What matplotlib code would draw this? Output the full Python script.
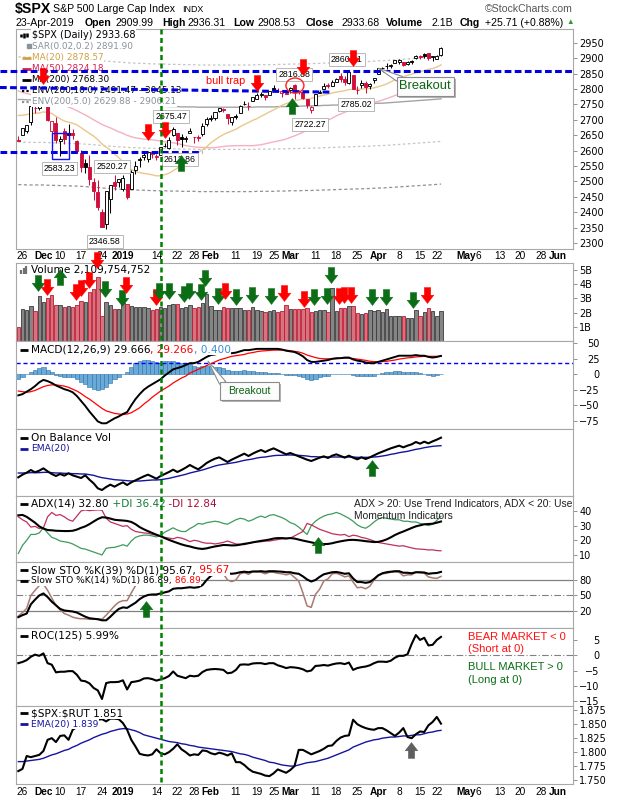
import numpy as np
import pandas as pd
import matplotlib
matplotlib.use('Agg')
import matplotlib.pyplot as plt
from matplotlib.path import Path
from matplotlib.patches import Rectangle, Ellipse, Polygon
from matplotlib.lines import Line2D
import matplotlib.patheffects as pe

plt.rcParams['font.family'] = ['DejaVu Sans']

# ---------------------------------------------------------------- data
holidays = ['2018-12-05', '2018-12-25', '2019-01-01', '2019-01-21',
            '2019-02-18', '2019-04-19', '2019-05-27']
trading_days = pd.bdate_range('2018-11-23', '2019-06-14', freq='C', holidays=holidays)

tick_dates = ['2018-11-26', '2018-12-03', '2018-12-10', '2018-12-17', '2018-12-24',
              '2019-01-02', '2019-01-14', '2019-01-22', '2019-01-28', '2019-02-01',
              '2019-02-11', '2019-02-19', '2019-02-25', '2019-03-01', '2019-03-11',
              '2019-03-18', '2019-03-25', '2019-04-01', '2019-04-08', '2019-04-15',
              '2019-04-22', '2019-05-01', '2019-05-06', '2019-05-13', '2019-05-20',
              '2019-05-28', '2019-06-03']
tick_labels = ['26', 'Dec', '10', '17', '24', '2019', '14', '22', '28', 'Feb', '11', '19',
               '25', 'Mar', '11', '18', '25', 'Apr', '8', '15', '22', 'May', '6', '13',
               '20', '28', 'Jun']
tick_bold = ['Dec', '2019', 'Feb', 'Mar', 'Apr', 'May', 'Jun']

open_ = [2633.36, 2649.97, 2663.75, 2691.45, 2736.97, 2737.76, 2790.50, 2782.43, 2663.51, 2691.26,
         2630.86, 2664.44, 2658.23, 2658.70, 2629.68, 2590.75, 2559.90, 2547.05, 2496.77, 2465.38,
         2400.56, 2363.12, 2442.50, 2498.77, 2498.94, 2476.96, 2491.92, 2474.33, 2535.61, 2568.11,
         2580.00, 2573.51, 2588.11, 2580.31, 2585.10, 2614.75, 2609.28, 2651.27, 2657.88, 2643.48,
         2638.84, 2657.44, 2644.97, 2644.89, 2653.62, 2685.49, 2702.32, 2706.49, 2728.34, 2735.05,
         2717.53, 2692.36, 2712.40, 2722.61, 2750.30, 2743.50, 2760.24, 2769.28, 2779.05, 2780.24,
         2780.67, 2804.35, 2792.36, 2787.50, 2788.11, 2798.22, 2814.37, 2794.41, 2790.27, 2766.53,
         2730.79, 2747.61, 2787.34, 2799.78, 2811.87, 2810.79, 2822.61, 2840.76, 2831.34, 2819.72,
         2844.52, 2796.01, 2812.66, 2819.72, 2809.40, 2828.27, 2848.63, 2868.24, 2876.09, 2873.99,
         2884.16, 2888.46, 2886.58, 2881.37, 2891.92, 2900.86, 2908.32, 2912.26, 2916.04, 2904.81,
         2898.78, 2909.99]
high = [2647.55, 2674.35, 2682.53, 2744.00, 2753.75, 2760.88, 2800.18, 2785.93, 2696.15, 2708.54,
        2647.51, 2674.35, 2685.44, 2670.19, 2635.07, 2601.13, 2573.99, 2585.29, 2509.63, 2504.41,
        2410.34, 2467.76, 2489.10, 2520.27, 2509.24, 2519.49, 2493.14, 2538.07, 2566.16, 2579.82,
        2595.32, 2597.82, 2596.27, 2589.32, 2613.08, 2625.76, 2645.06, 2675.47, 2657.88, 2653.19,
        2647.20, 2672.38, 2644.97, 2650.93, 2690.44, 2708.95, 2716.66, 2724.99, 2738.98, 2738.08,
        2719.32, 2708.07, 2718.05, 2748.19, 2761.85, 2757.90, 2775.66, 2787.33, 2789.88, 2781.58,
        2794.20, 2813.49, 2803.12, 2795.76, 2793.73, 2808.02, 2816.88, 2796.44, 2790.27, 2767.25,
        2744.13, 2784.00, 2798.32, 2821.24, 2819.72, 2830.73, 2835.41, 2852.42, 2843.54, 2860.31,
        2846.16, 2809.79, 2829.87, 2825.56, 2819.71, 2836.03, 2869.40, 2872.90, 2885.25, 2881.28,
        2893.24, 2895.95, 2886.88, 2889.71, 2893.42, 2910.54, 2909.60, 2916.06, 2918.00, 2908.40,
        2909.51, 2936.31]
low = [2631.09, 2649.97, 2655.89, 2684.38, 2722.94, 2732.76, 2773.38, 2697.18, 2621.53, 2623.14,
       2583.23, 2621.30, 2650.26, 2637.27, 2593.84, 2530.54, 2528.71, 2488.96, 2441.18, 2408.55,
       2351.10, 2346.58, 2397.94, 2472.89, 2482.82, 2467.47, 2443.96, 2474.33, 2524.56, 2547.56,
       2568.89, 2562.02, 2577.40, 2570.41, 2585.10, 2612.68, 2606.36, 2647.58, 2617.27, 2612.86,
       2627.01, 2657.33, 2624.06, 2631.05, 2648.34, 2678.65, 2696.88, 2698.75, 2724.03, 2724.15,
       2687.26, 2681.83, 2703.79, 2722.61, 2748.63, 2731.23, 2760.24, 2767.29, 2774.06, 2764.55,
       2779.11, 2794.99, 2789.47, 2775.13, 2782.51, 2787.38, 2767.66, 2782.97, 2768.69, 2739.09,
       2722.27, 2747.61, 2786.73, 2799.78, 2804.58, 2810.79, 2821.99, 2823.27, 2812.43, 2817.38,
       2800.47, 2785.02, 2803.99, 2787.72, 2798.77, 2819.23, 2848.63, 2858.75, 2865.17, 2867.14,
       2882.99, 2880.78, 2873.33, 2879.13, 2881.99, 2898.37, 2896.48, 2900.71, 2895.45, 2891.90,
       2896.35, 2908.53]
close = [2632.56, 2673.45, 2682.17, 2743.79, 2737.80, 2760.17, 2790.37, 2700.06, 2695.95, 2633.08,
         2637.72, 2636.78, 2651.07, 2650.54, 2599.95, 2545.94, 2546.16, 2506.96, 2467.42, 2416.62,
         2351.10, 2467.70, 2488.83, 2485.74, 2506.85, 2510.03, 2447.89, 2531.94, 2549.69, 2574.41,
         2584.96, 2596.64, 2596.26, 2582.61, 2610.30, 2616.10, 2635.96, 2670.71, 2632.90, 2638.70,
         2642.33, 2664.76, 2643.85, 2640.00, 2681.05, 2704.10, 2706.53, 2724.87, 2737.70, 2731.61,
         2706.05, 2707.88, 2709.80, 2744.73, 2753.03, 2745.73, 2775.60, 2779.76, 2784.70, 2774.88,
         2792.67, 2796.11, 2793.90, 2792.38, 2784.49, 2803.69, 2792.81, 2789.65, 2771.45, 2748.93,
         2743.07, 2783.30, 2791.52, 2810.92, 2808.48, 2822.48, 2832.94, 2832.57, 2824.23, 2854.88,
         2800.71, 2798.36, 2818.46, 2805.37, 2815.44, 2834.40, 2867.19, 2867.24, 2873.40, 2879.39,
         2892.74, 2895.77, 2878.20, 2888.21, 2888.32, 2907.41, 2905.58, 2907.06, 2900.45, 2905.03,
         2907.97, 2933.68]
prev_close_first = 2649.93

ma20 = [2714.1, 2714.9, 2716.9, 2720.0, 2721.3, 2722.3, 2725.7, 2723.8, 2720.8, 2711.7,
        2703.3, 2696.1, 2692.4, 2688.8, 2683.7, 2674.5, 2665.0, 2655.9, 2647.1, 2635.5,
        2621.4, 2611.1, 2601.5, 2588.6, 2577.0, 2564.5, 2547.4, 2539.0, 2531.7, 2528.8,
        2526.1, 2524.1, 2521.4, 2518.0, 2518.5, 2522.0, 2526.5, 2534.7, 2543.0, 2554.1,
        2568.6, 2578.5, 2586.2, 2593.9, 2602.6, 2612.3, 2625.3, 2634.9, 2644.3, 2652.2,
        2658.3, 2663.8, 2669.5, 2677.6, 2684.8, 2691.3, 2698.3, 2703.7, 2711.3, 2718.1,
        2725.7, 2732.2, 2739.7, 2747.3, 2752.5, 2757.5, 2761.8, 2765.0, 2766.7, 2767.5,
        2769.4, 2773.1, 2777.2, 2780.5, 2783.3, 2787.1, 2789.9, 2792.6, 2794.5, 2798.5,
        2798.9, 2799.0, 2800.2, 2800.9, 2802.4, 2803.9, 2807.6, 2811.5, 2816.6, 2823.1,
        2830.6, 2836.2, 2840.5, 2844.4, 2848.4, 2852.6, 2856.3, 2860.0, 2863.8, 2866.3,
        2871.6, 2878.6]
ma50 = [2794.0, 2789.4, 2785.3, 2782.1, 2778.7, 2775.2, 2772.4, 2768.1, 2763.7, 2758.2,
        2752.7, 2747.1, 2741.7, 2736.2, 2729.7, 2722.6, 2715.8, 2708.2, 2700.0, 2692.6,
        2685.0, 2679.0, 2673.8, 2667.3, 2661.3, 2656.1, 2649.7, 2645.2, 2641.4, 2639.7,
        2637.3, 2636.1, 2635.2, 2633.2, 2631.1, 2628.7, 2626.9, 2625.6, 2623.1, 2619.6,
        2616.3, 2614.0, 2612.4, 2610.7, 2610.3, 2609.8, 2609.2, 2609.8, 2611.8, 2613.4,
        2614.8, 2615.5, 2616.1, 2616.1, 2616.4, 2616.1, 2615.9, 2617.5, 2619.2, 2622.1,
        2625.2, 2628.4, 2631.2, 2634.0, 2637.7, 2642.9, 2647.8, 2653.5, 2659.5, 2666.2,
        2674.0, 2680.3, 2686.4, 2692.9, 2698.9, 2705.2, 2712.9, 2718.9, 2724.4, 2730.0,
        2734.3, 2738.3, 2742.8, 2747.2, 2751.3, 2755.7, 2760.3, 2764.2, 2769.0, 2773.8,
        2778.9, 2783.5, 2788.2, 2793.1, 2797.3, 2801.3, 2805.3, 2809.0, 2812.2, 2815.6,
        2819.7, 2824.2]
ma200 = [2766, 2766, 2765, 2765, 2765, 2765, 2765, 2764, 2764, 2763,
         2763, 2762, 2762, 2761, 2761, 2760, 2759, 2758, 2757, 2756,
         2754, 2753, 2752, 2751, 2750, 2749, 2748, 2747, 2747, 2746,
         2746, 2745, 2745, 2744, 2744, 2744, 2743, 2743, 2743, 2742,
         2742, 2742, 2742, 2741, 2741, 2741, 2741, 2741, 2741, 2741,
         2741, 2741, 2741, 2741, 2741, 2741, 2741, 2742, 2742, 2742,
         2742, 2742, 2743, 2743, 2743, 2744, 2744, 2744, 2745, 2745,
         2745, 2746, 2746, 2747, 2747, 2748, 2748, 2749, 2749, 2750,
         2750, 2751, 2751, 2752, 2752, 2753, 2754, 2754, 2755, 2756,
         2757, 2758, 2759, 2760, 2761, 2762, 2763, 2764, 2765, 2766,
         2767, 2768.3]
env_pct_wide = 0.10
env_pct_narrow = 0.05

volume_b = [1.00, 2.23, 2.18, 2.46, 2.11, 3.17, 2.72, 3.05, 3.24, 2.53,
            2.53, 2.42, 2.46, 2.42, 2.53, 2.82, 2.77, 3.43, 3.66, 4.53,
            1.76, 2.72, 2.53, 2.25, 2.25, 2.70, 2.58, 2.49, 2.42, 2.42,
            2.42, 2.35, 2.18, 2.25, 2.42, 2.30, 2.53, 2.58, 2.58, 2.30,
            2.42, 2.53, 2.30, 2.42, 2.65, 3.29, 2.49, 2.18, 2.18, 2.42,
            2.30, 2.35, 2.30, 2.35, 2.18, 2.18, 2.42, 2.18, 2.11, 2.07,
            2.11, 2.18, 2.07, 2.11, 2.53, 2.25, 2.23, 2.23, 2.25, 2.35,
            2.07, 2.11, 2.18, 2.18, 2.07, 3.71, 2.11, 2.30, 2.30, 2.46,
            2.46, 1.95, 1.88, 1.95, 2.18, 2.11, 2.18, 2.07, 2.25, 1.76,
            1.76, 1.76, 1.76, 1.64, 1.64, 2.18, 1.76, 2.07, 2.35, 2.11,
            1.76, 2.11]

macd = [-34, -32, -28, -24, -19, -13, -9, -11, -14, -18,
        -21, -24, -26, -29, -35, -43, -51, -60, -68, -76,
        -79, -79, -75, -71, -68, -64, -61, -50, -40, -32,
        -25, -20, -16, -12, -8, -2, 3, 8, 10, 12,
        15, 18, 18, 20, 24, 28, 31, 32, 34, 35,
        34, 34, 35, 37, 39, 39, 40, 41, 41, 41,
        41, 41, 41, 40, 38, 37, 36, 33, 29, 23,
        20, 20, 21, 22, 23, 25, 26, 26, 27, 27,
        24, 22, 21, 19, 18, 18, 20, 22, 24, 26,
        28, 30, 30, 30, 30, 31, 30, 30, 28, 27,
        28, 29.666]
macd_signal = [-27, -28, -29, -28, -26, -23, -20, -18, -17, -17,
               -18, -19, -21, -24, -27, -31, -36, -40, -45, -50,
               -55, -59, -61, -63, -64, -65, -64, -62, -58, -54,
               -48, -43, -37, -32, -27, -23, -19, -14, -10, -6,
               -3, 2, 5, 8, 11, 14, 17, 20, 23, 25,
               27, 29, 30, 31, 32, 34, 35, 36.5, 37.5, 38,
               38.5, 39, 39, 39, 39, 38, 37, 36, 34, 31,
               29, 27, 25.5, 25, 25, 25, 25, 26, 26, 26,
               25.5, 24.5, 23.5, 22.5, 21, 20.5, 20, 20.5, 21, 22,
               23, 24.5, 25.5, 26.5, 27, 28, 28.5, 29, 29, 29,
               29, 29.266]
macd_hist = [-7, -4, 1, 4, 7, 10, 11, 7, 3, -1,
             -3, -5, -5, -5, -8, -12, -15, -20, -23, -26,
             -24, -20, -14, -8, -4, 1, 3, 12, 18, 22,
             23, 23, 21, 20, 19, 21, 22, 22, 20, 18,
             18, 16, 13, 12, 13, 14, 14, 12, 11, 10,
             7, 5, 5, 6, 7, 5, 5, 4.5, 3.5, 3,
             2.5, 2, 2, 1, -1, -1, -1, -3, -5, -8,
             -9, -7, -4.5, -3, -2, 0, 1, 0, 1, 1,
             -1.5, -2.5, -2.5, -3.5, -3, -2.5, 0, 1.5, 3, 4,
             5, 5.5, 4.5, 3.5, 3, 3, 1.5, 1, -1, -2,
             -1, 0.4]
macd_guide = 17.7

obv = [5.6, 6.4, 7.0, 7.8, 7.1, 7.6, 8.3, 7.4, 6.6, 6.0,
       6.6, 6.1, 6.8, 6.2, 5.8, 5.4, 6.2, 4.9, 3.8, 2.3,
       1.8, 2.7, 3.4, 2.8, 3.5, 4.1, 3.3, 4.1, 4.7, 5.3,
       5.9, 6.4, 5.8, 5.2, 6.0, 6.6, 7.2, 7.9, 7.2, 7.8,
       8.5, 9.3, 8.6, 8.0, 8.9, 9.9, 10.6, 11.2, 11.6, 10.9,
       10.2, 10.9, 11.5, 12.1, 12.7, 12.0, 12.7, 13.3, 13.8, 13.2,
       13.8, 14.3, 13.7, 13.1, 12.5, 12.9, 12.4, 11.9, 11.4, 10.9,
       10.5, 11.0, 11.5, 11.9, 11.4, 12.1, 12.5, 12.0, 11.5, 12.1,
       11.5, 11.0, 11.6, 11.1, 11.6, 12.2, 12.8, 13.3, 13.8, 14.3,
       14.7, 15.1, 14.6, 15.1, 15.5, 16.2, 15.7, 16.3, 15.8, 16.4,
       16.9, 17.5]
obv_ema = [6.9, 6.9, 6.9, 7.0, 7.0, 7.0, 7.1, 7.1, 7.0, 6.9,
           6.9, 6.8, 6.8, 6.7, 6.7, 6.6, 6.6, 6.4, 6.2, 5.8,
           5.5, 5.3, 5.1, 4.9, 4.8, 4.7, 4.6, 4.5, 4.5, 4.5,
           4.6, 4.7, 4.8, 4.8, 4.9, 5.1, 5.3, 5.6, 5.9, 6.2,
           6.5, 6.9, 7.2, 7.5, 7.8, 8.2, 8.6, 9.0, 9.3, 9.5,
           9.7, 9.9, 10.1, 10.4, 10.7, 10.9, 11.1, 11.4, 11.6, 11.7,
           11.9, 12.1, 12.2, 12.2, 12.3, 12.3, 12.3, 12.2, 12.1, 12.0,
           11.8, 11.8, 11.7, 11.7, 11.7, 11.7, 11.7, 11.7, 11.7, 11.7,
           11.7, 11.6, 11.6, 11.6, 11.6, 11.7, 11.8, 12.0, 12.2, 12.5,
           12.7, 13.0, 13.2, 13.4, 13.7, 14.0, 14.2, 14.5, 14.7, 14.9,
           15.0, 15.1]

adx = [37, 37.3, 36, 34, 32, 29.5, 28, 27, 26.8, 26.5,
       26.4, 26.3, 26.3, 26.5, 27.3, 28.5, 29.5, 31, 32.8, 34.5,
       35.7, 35.5, 34.8, 34, 33.7, 33.5, 33.2, 32.5, 31, 29,
       27.5, 26.2, 25, 23.8, 22.8, 21.5, 20.3, 19.2, 18.2, 17.2,
       16.4, 15.8, 15.0, 14.4, 14.1, 14.5, 15.2, 15.8, 16.3, 16.8,
       16.7, 16.5, 16.6, 17, 17.6, 18, 18.6, 19.1, 19.6, 20,
       20.5, 21.2, 21.5, 21.5, 21.3, 21.5, 21.2, 20.5, 19.8, 19.2,
       18.6, 18, 17.7, 17.4, 17.5, 18, 18.7, 19.3, 19.8, 20.2,
       20.3, 20.1, 19.8, 19.4, 19.1, 18.8, 18.9, 19.6, 20.6, 22,
       23.6, 24.9, 26, 27.2, 28.4, 29.5, 30.2, 30.9, 31.1, 31.3,
       32.0, 32.8]
plus_di = [11, 16.5, 20, 24, 24, 25, 28.5, 25, 22, 21,
           19.5, 19, 18.5, 17.5, 16, 14.5, 14, 13, 12, 11,
           10, 14.5, 15, 15.2, 16, 17, 16, 19.5, 22, 23,
           23.5, 23.5, 23, 22.3, 23.5, 25.5, 27, 28.5, 27, 26,
           26, 28, 29.5, 31.5, 31, 32, 32.5, 33, 32.5, 31.5,
           31, 32.5, 34, 35, 34.5, 33, 34, 35.5, 36.5, 35.5,
           37, 37.5, 36.5, 35.5, 34, 32, 31, 29, 26.5, 24,
           30, 33, 35, 36.5, 37.5, 38, 39, 38, 36.5, 35,
           33, 30.5, 29, 28.2, 30, 32.5, 34.5, 35.5, 35, 34.5,
           34, 34, 33, 33, 32.5, 32.5, 31.5, 31, 30, 31,
           33.5, 36.42]
minus_di = [36, 34, 32.5, 29, 29.5, 28, 28.5, 36, 39, 37,
            37.5, 36, 34, 33, 36.5, 40, 40.7, 40.2, 40.5, 40.7,
            40.5, 35, 32.5, 31.5, 30.5, 29.5, 30, 27.5, 26, 25.5,
            25, 24.8, 24, 23.5, 22.5, 22, 21.5, 21, 22, 21.5,
            20.5, 19.1, 20, 19.5, 18.5, 18, 18, 17.5, 18, 18.6,
            19.5, 18.5, 17.5, 17.3, 17, 18, 18.5, 19, 19, 19.5,
            19.5, 20, 20.5, 21, 21, 21.5, 23, 24.5, 26, 31.5,
            30.5, 29, 27.5, 26.5, 25.5, 24.5, 24, 23.6, 24, 22.5,
            23.5, 23, 22, 21.4, 20.5, 19.5, 18.5, 18, 17.5, 17,
            16.5, 16, 16.3, 15.5, 14.8, 14.2, 14, 13.8, 13.4, 13.5,
            13, 12.84]

sto39 = [8, 12, 15, 33, 42, 50, 54, 47, 38, 31,
         24, 21, 20, 19, 17, 13, 9, 6, 5, 4,
         2, 2, 9, 17, 24, 27, 26, 31, 36, 43,
         48, 51, 52, 52, 54, 56, 58, 63, 64, 64,
         65, 66, 65, 66, 70, 80, 88, 92, 95, 95,
         93, 92, 93, 95, 96, 95, 96.5, 96.5, 97, 96,
         97, 97, 96.5, 96, 95, 95, 93, 92, 87, 81,
         77, 80, 86, 91, 93, 95, 95.5, 94, 92, 93,
         83, 76, 76, 74.5, 76, 82, 89, 93, 95, 96,
         97, 97, 94, 94, 93, 95, 95, 94.5, 92, 93,
         93.5, 95.67]
sto14 = [10, 17, 25, 50, 60, 69, 72, 60, 45, 31,
         22, 15, 12, 8, 6, 5, 5, 4, 4, 5,
         4, 12, 21, 30, 37, 40, 40, 55, 69, 74,
         80, 86, 88, 86, 90, 91, 93, 96, 88, 87,
         86, 90, 87, 86, 92, 96, 96, 97, 97, 92,
         80, 77, 80, 92, 94, 91, 96, 96, 95, 92,
         95, 95, 93, 92, 90, 92, 85, 78, 55, 30,
         27, 52, 62, 78, 82, 92, 93, 90, 86, 88,
         76, 65, 66, 63, 68, 80, 88, 92, 93, 95,
         96, 95, 88, 90, 90, 95, 94, 93, 86, 84,
         83, 86.89]

roc125 = [-2.6, -2.2, -1.6, -0.5, 0.2, -0.2, 0.6, -2.6, -3.1, -5.6,
          -5.4, -5.4, -5.2, -5.2, -6.4, -8.3, -8.5, -9.2, -10.7, -11.5,
          -14.3, -9.1, -8.8, -8.8, -8.7, -8.2, -11.2, -8.8, -8.6, -8.3,
          -7.6, -7.5, -7.8, -8.3, -7.9, -7.5, -6.8, -5.3, -6.7, -7.1,
          -7.5, -6.7, -6.9, -6.7, -5.5, -4.8, -4.6, -4.5, -4.6, -4.8,
          -5.9, -5.7, -4.8, -3.1, -3.0, -3.1, -2.7, -2.6, -2.6, -2.9,
          -2.6, -2.6, -3.3, -3.7, -4.2, -3.9, -4.0, -4.2, -4.6, -5.3,
          -5.0, -3.5, -3.4, -3.2, -3.4, -3.0, -2.7, -2.6, -2.9, -2.4,
          -4.8, -4.2, -3.9, -3.7, -3.3, -2.6, -2.1, -2.1, -2.2, -1.8,
          -0.8, -0.2, -0.2, 0.3, 3.7, 6.6, 5.0, 5.7, 3.2, 3.4,
          5.0, 5.99]

spx_rut = [1.766, 1.770, 1.793, 1.791, 1.793, 1.795, 1.802, 1.822, 1.825, 1.818,
           1.829, 1.830, 1.822, 1.840, 1.845, 1.850, 1.848, 1.852, 1.856, 1.858,
           1.859, 1.855, 1.860, 1.860, 1.859, 1.852, 1.840, 1.822, 1.810, 1.797,
           1.795, 1.794, 1.796, 1.805, 1.798, 1.796, 1.800, 1.806, 1.814, 1.805,
           1.800, 1.794, 1.796, 1.795, 1.803, 1.802, 1.798, 1.796, 1.799, 1.797,
           1.794, 1.798, 1.782, 1.782, 1.777, 1.770, 1.765, 1.763, 1.761, 1.758,
           1.757, 1.762, 1.769, 1.766, 1.763, 1.768, 1.775, 1.804, 1.804, 1.800,
           1.796, 1.799, 1.802, 1.806, 1.811, 1.812, 1.820, 1.826, 1.829, 1.830,
           1.858, 1.850, 1.846, 1.843, 1.841, 1.840, 1.843, 1.843, 1.839, 1.834,
           1.829, 1.835, 1.843, 1.827, 1.825, 1.832, 1.837, 1.836, 1.848, 1.854,
           1.863, 1.851]
spx_rut_ema = [1.783, 1.783, 1.784, 1.785, 1.786, 1.787, 1.789, 1.792, 1.795, 1.797,
               1.800, 1.803, 1.805, 1.809, 1.812, 1.816, 1.819, 1.822, 1.826, 1.829,
               1.832, 1.834, 1.837, 1.839, 1.841, 1.842, 1.842, 1.840, 1.838, 1.835,
               1.831, 1.829, 1.827, 1.825, 1.823, 1.821, 1.819, 1.818, 1.817, 1.815,
               1.814, 1.812, 1.811, 1.809, 1.808, 1.807, 1.806, 1.805, 1.804, 1.803,
               1.802, 1.801, 1.799, 1.797, 1.796, 1.794, 1.791, 1.789, 1.787, 1.785,
               1.782, 1.781, 1.779, 1.777, 1.776, 1.775, 1.775, 1.777, 1.779, 1.781,
               1.782, 1.783, 1.785, 1.787, 1.789, 1.792, 1.795, 1.798, 1.801, 1.804,
               1.809, 1.812, 1.815, 1.818, 1.820, 1.822, 1.823, 1.825, 1.826, 1.827,
               1.827, 1.828, 1.829, 1.829, 1.830, 1.831, 1.831, 1.833, 1.835, 1.836,
               1.838, 1.839]

# annotations (drawn by the chartist)
main_arrow_x = [5.9, 31.1, 35.1, 57.0, 68.1, 80.0, 38.9, 65.3]
main_arrow_y = [2841, 2659, 2666, 2820, 2872, 2901, 2559, 2744]
main_arrow_kind = ['rd', 'rd', 'rd', 'rd', 'rd', 'rd', 'gu', 'gu']
vol_arrow_x = [4.75, 6.74, 9.92, 13.7, 14.9, 16.8, 18.9, 20.8, 24.8, 25.7,
               32.8, 33.7, 35.9, 39.6, 40.8, 43.6, 44.7, 47.6, 49.5, 51.9,
               55.8, 60.5, 63.6, 68.3, 70.7, 73.7, 74.6, 76.7, 77.9, 79.4,
               84.5, 87.8, 94.4, 97.7]
vol_arrow_y = [4.12, 3.84, 4.48, 3.42, 3.77, 4.27, 5.71, 3.70, 3.00, 3.98,
               3.07, 3.53, 3.53, 3.28, 3.53, 3.42, 4.41, 3.14, 3.53, 3.07,
               3.24, 3.14, 3.35, 2.93, 3.07, 3.14, 4.65, 3.14, 3.21, 3.24,
               3.07, 3.07, 2.86, 3.24]
vol_arrow_kind = ['gd', 'rd', 'gu', 'rd', 'rd', 'rd', 'rd', 'gd', 'gd', 'rd',
                  'rd', 'gd', 'gd', 'gd', 'gd', 'gd', 'gd', 'gd', 'rd', 'gd',
                  'gd', 'gd', 'rd', 'rd', 'gd', 'gd', 'gd', 'rd', 'rd', 'rd',
                  'gd', 'gd', 'gd', 'rd']
price_label_text = ['2583.23', '2520.27', '2346.58', '2675.47', '2612.86',
                    '2816.88', '2860.31', '2722.27', '2785.02']
price_label_x = [9.8, 22.4, 20.7, 36.5, 38.6, 65.9, 78.5, 69.7, 80.7]
price_label_y = [2541, 2548, 2306, 2710, 2572, 2848, 2895, 2684, 2750]
level_hi = 2860
level_mid = (2805, 2790)
level_lo = 2594
breakout_day = '2019-01-15'

# ---------------------------------------------------------------- layout
W, H = 620, 800
L, R = 16, 573
X0PX, DX = 18.3, 4.185
XL0, XL1 = (L - X0PX) / DX, (R - X0PX) / DX
P = {'main': (29, 249), 'vol': (263, 341), 'macd': (341, 429), 'obv': (429, 496),
     'adx': (496, 562), 'sto': (562, 628), 'roc': (628, 706), 'ratio': (706, 784)}
SPINE = '#a8a8a8'
RED = '#d0103c'
LF = ['Liberation Sans', 'DejaVu Sans']
NARROW = ['Liberation Sans Narrow', 'Liberation Sans', 'DejaVu Sans']

fig = plt.figure(figsize=(W / 100, H / 100), dpi=100)
fig.patch.set_facecolor('white')

n = len(close)
x = np.arange(n)
pos = {d: trading_days.get_loc(pd.Timestamp(d)) for d in tick_dates}
tick_pos = [pos[d] for d in tick_dates]


def panel(name):
    t, b = P[name]
    ax = fig.add_axes([L / W, 1 - b / H, (R - L) / W, (b - t) / H])
    ax.set_xlim(XL0, XL1)
    for s in ax.spines.values():
        s.set_color(SPINE)
        s.set_linewidth(0.8)
    ax.yaxis.tick_right()
    ax.tick_params(axis='y', direction='out', length=3, width=0.7, color='#909090',
                   labelsize=7, pad=1.5, left=False, labelleft=False)
    ax.tick_params(axis='x', bottom=False, labelbottom=False, top=False)
    return ax


def axc(name, xpx, ypx):
    t, b = P[name]
    return (xpx - L) / (R - L), (b - ypx) / (b - t)


def date_labels(ax, pad):
    ax.set_xticks(tick_pos)
    ax.set_xticklabels(tick_labels)
    ax.tick_params(axis='x', bottom=True, labelbottom=True, length=0, pad=pad)
    for lab in ax.get_xticklabels():
        lab.set_fontfamily(LF)
        lab.set_fontsize(7.3)
        lab.set_fontweight('bold' if lab.get_text() in tick_bold else 'normal')


def seg_text(ax, name, xpx, ypx, segs, size, z=4):
    xa, ya = axc(name, xpx, ypx)
    t = ax.text(xa, ya, segs[0][0], color=segs[0][1], fontsize=size, transform=ax.transAxes,
                va='center', ha='left', zorder=z,
                bbox=dict(fc='white', ec='none', pad=0.4))
    prev = t
    for s, col in segs[1:]:
        prev = ax.annotate(s, xy=(1, 0.5), xycoords=prev, va='center', ha='left', color=col,
                           fontsize=size, zorder=z, annotation_clip=False,
                           bbox=dict(fc='white', ec='none', pad=0.4))
    return t


def icon_line(ax, name, ypx, color, ls='-', lw=2.0, x0=20, x1=28):
    xa0, ya = axc(name, x0, ypx)
    xa1, _ = axc(name, x1, ypx)
    ax.plot([xa0, xa1], [ya, ya], transform=ax.transAxes, color=color, lw=lw, ls=ls,
            solid_capstyle='butt', clip_on=False, zorder=4.5)


def arrow_path(up):
    v = [(-0.2, 0.5), (0.2, 0.5), (0.2, 0.02), (0.4, 0.02), (0.0, -0.5),
         (-0.4, 0.02), (-0.2, 0.02), (-0.2, 0.5)]
    if up:
        v = [(a, -b) for a, b in v]
    codes = [Path.MOVETO] + [Path.LINETO] * (len(v) - 1) + [Path.CLOSEPOLY]
    return Path(v + [v[0]], codes)


DOWN, UP = arrow_path(False), arrow_path(True)
ACOL = {'r': '#ff0000', 'g': '#0b6e16', 'k': '#5f5f5f'}


def arrows(ax, xs, ys, kinds, ms=11.5):
    for xa, ya, k in zip(xs, ys, kinds):
        ax.plot([xa], [ya], marker=UP if k[1] == 'u' else DOWN, ms=ms, color=ACOL[k[0]],
                mec=ACOL[k[0]], mew=0.3, ls='none', clip_on=False, zorder=8)


def callout(ax, x0, x1, y0, y1, tip, attach, text, size):
    wedge = Polygon([tip, attach[0], attach[1]], closed=True, fc='white', ec='#8c8c8c',
                    lw=0.8, zorder=6)
    ax.add_patch(wedge)
    box = Rectangle((x0, y0), x1 - x0, y1 - y0, fc='#fcfcfc', ec='#8c8c8c', lw=0.8, zorder=6.2,
                    path_effects=[pe.withSimplePatchShadow(offset=(1.6, -1.6),
                                                           shadow_rgbFace='#b4b4b4', alpha=1)])
    ax.add_patch(box)
    ax.text((x0 + x1) / 2, (y0 + y1) / 2, text, color='#0a6414', fontsize=size, family=LF,
            ha='center', va='center', zorder=6.5)


# ---------------------------------------------------------------- main price panel
axm = panel('main')
axm.set_ylim(2280.5, 2995)
axm.set_yticks(np.arange(2300, 2951, 50))
date_labels(axm, 1.6)

ma200a = np.array(ma200)
for k, (col, ls, lw) in {env_pct_wide: ('#909090', (0, (2.5, 2)), 0.9),
                         env_pct_narrow: ('#c4c4c4', (0, (2, 2)), 0.9)}.items():
    axm.plot(x, ma200a * (1 - k), color=col, ls=ls, lw=lw, zorder=2)
    axm.plot(x, ma200a * (1 + k), color=col, ls=ls, lw=lw, zorder=2)
axm.plot(x, ma200, color='#a4a4a4', lw=1.0, zorder=2)
axm.plot(x, ma50, color='#f2b2c2', lw=1.0, zorder=2)
axm.plot(x, ma20, color='#e9c88a', lw=1.0, zorder=2)

o, h, l, c = map(np.array, (open_, high, low, close))
prev = np.r_[prev_close_first, c[:-1]]
down = c < prev
edge = np.where(down, RED, 'black')
face = [edge[i] if c[i] < o[i] else 'white' for i in range(n)]
axm.vlines(x, l, h, colors=edge, lw=0.75, zorder=3)
axm.bar(x, np.maximum(np.abs(c - o), 1.2), bottom=np.minimum(o, c), width=0.72, color=face,
        edgecolor=edge, linewidth=0.65, zorder=3.1)

# legend block
mleg = [(r'\$SPX (Daily) 2933.68', 'black', 35.0, 7.0),
        ('SAR(0.02,0.2) 2891.90', '#8a929c', 46.3, 6.4),
        ('MA(20) 2878.57', '#d2a044', 57.5, 6.4),
        ('MA(50) 2824.18', '#d2204c', 68.5, 6.4),
        ('MA(200) 2768.30', 'black', 79.5, 6.4),
        ('ENV(200,10.0) 2491.47 - 3045.13', 'black', 90.5, 6.4),
        ('ENV(200,5.0) 2629.88 - 2906.21', '#8a929c', 101.5, 6.4)]
for txt, col, ypx, fs in mleg:
    seg_text(axm, 'main', 32, ypx, [(txt, col)], fs)
for xx, hh in [(21, 3), (24, 5), (27, 4)]:
    xa, ya = axc('main', xx, 35 + hh / 2)
    _, yb = axc('main', xx, 35 - hh / 2)
    axm.plot([xa, xa], [ya, yb], transform=axm.transAxes, color='black', lw=1.8,
             solid_capstyle='butt', clip_on=False, zorder=4.5)
xa, ya = axc('main', 29, 46.3)
axm.plot([xa], [ya], marker='s', ms=2.5, color='#8a929c', transform=axm.transAxes,
         clip_on=False, zorder=4.5)
icon_line(axm, 'main', 57.5, '#d2a044', x0=22, x1=31)
icon_line(axm, 'main', 68.5, '#d2204c', x0=22, x1=31)
icon_line(axm, 'main', 79.5, 'black', x0=22, x1=31)
icon_line(axm, 'main', 90.5, 'black', ls=(0, (1, 1)), lw=1.6, x0=22, x1=31)
icon_line(axm, 'main', 101.5, '#8a929c', ls=(0, (1, 1)), lw=1.6, x0=22, x1=31)

# horizontal levels
xa_left = (0 - X0PX) / DX
BLUE = '#0000e0'
dash = dict(color=BLUE, lw=2.2, dashes=(2.2, 1.1), clip_on=False, zorder=5)
axm.plot([xa_left, XL1], [level_hi, level_hi], **dash)
axm.plot([xa_left, 74.9], list(level_mid), **dash)
axm.plot([xa_left, 43.8], [level_lo, level_lo], **dash)

for t_, xx, yy in zip(price_label_text, price_label_x, price_label_y):
    axm.text(xx, yy, t_, fontsize=6.3, family=LF, ha='center', va='center', zorder=6,
             bbox=dict(boxstyle='square,pad=0.22', fc='white', ec='#b8b8b8', lw=0.7))
axm.add_patch(Rectangle((8.1, 2572.4), 4.1, 84.4, fill=False, ec='#1010ff', lw=1.0, zorder=6))
axm.add_patch(Ellipse((66.1, 2811.4), 4.3, 48.7, fill=False, ec='#ff2020', lw=1.0, zorder=6))
axm.text(49.6, 2825, 'bull trap', color='#ff0000', fontsize=7.8, family=LF,
         ha='center', va='center', zorder=6)
callout(axm, 90.4, 104.1, 2777.9, 2840.6, (86.0, 2868), [(90.4, 2826), (91.8, 2840.6)],
        'Breakout', 9.3)
arrows(axm, main_arrow_x, main_arrow_y, main_arrow_kind)

# ---------------------------------------------------------------- volume
axv = panel('vol')
axv.set_ylim(0, 5.5)
axv.set_yticks([1, 2, 3, 4, 5])
axv.set_yticklabels(['1B', '2B', '3B', '4B', '5B'])
vfill = np.where(down, '#d47480', '#858585')
vedge = np.where(down, '#c01830', '#3c3c3c')
axv.bar(x, volume_b, width=0.82, color=vfill, edgecolor=vedge, linewidth=0.6, zorder=2)
seg_text(axv, 'vol', 31, 270.5, [('Volume 2,109,754,752', 'black')], 7.6)
for xx, hh in [(21, 4), (23.5, 6), (26, 8)]:
    xa, ya = axc('vol', xx, 274)
    _, yb = axc('vol', xx, 274 - hh)
    axv.plot([xa, xa], [ya, yb], transform=axv.transAxes, color='#707070', lw=1.6,
             solid_capstyle='butt', clip_on=False, zorder=4.5)
arrows(axv, vol_arrow_x, vol_arrow_y, vol_arrow_kind)

# ---------------------------------------------------------------- MACD
axd = panel('macd')
axd.set_ylim(-88.2, 53.7)
axd.set_yticks([50, 25, 0, -25, -50, -75])
axd.bar(x, macd_hist, width=1.0, color='#6aaad8', edgecolor='#2f70a8', linewidth=0.4, zorder=2)
axd.axhline(macd_guide, color='#0000ff', lw=1.0, dashes=(3, 2), zorder=2.5)
axd.plot(x, macd_signal, color='#ff0000', lw=0.9, zorder=3)
axd.plot(x, macd, color='black', lw=1.4, zorder=3.2)
seg_text(axd, 'macd', 31, 349.5, [('MACD(12,26,9) 29.666', 'black'), (', 29.266', '#ff0000'),
                                  (', 0.400', '#3a8fd0')], 7.6)
icon_line(axd, 'macd', 349.5, 'black')
callout(axd, 48.1, 62.2, -41.5, -11.9, (45.3, 21.5), [(48.1, -16), (49.6, -11.9)],
        'Breakout', 7.6)

# ---------------------------------------------------------------- OBV
axo = panel('obv')
axo.set_ylim(0, 20.1)
axo.set_yticks([])
axo.plot(x, obv_ema, color='#1414a0', lw=1.0, zorder=2)
axo.plot(x, obv, color='black', lw=1.5, zorder=3)
seg_text(axo, 'obv', 31, 437.7, [('On Balance Vol', 'black')], 7.6)
seg_text(axo, 'obv', 31, 449.0, [('EMA(20)', '#1414a0')], 6.6)
icon_line(axo, 'obv', 437.7, 'black')
icon_line(axo, 'obv', 449.0, '#1414a0')
arrows(axo, [84.5], [8.3], ['gu'])

# ---------------------------------------------------------------- ADX
axa = panel('adx')
axa.set_ylim(5.2, 50.2)
axa.set_yticks([40, 30, 20, 10])
axa.plot(x, plus_di, color='#3e9a5e', lw=0.9, zorder=2)
axa.plot(x, minus_di, color='#c0305a', lw=0.9, zorder=2)
axa.plot(x, adx, color='black', lw=1.5, zorder=3)
seg_text(axa, 'adx', 31, 504, [('ADX(14) 32.80', 'black'), (' +DI 36.42', '#127a34'),
                               (' -DI 12.84', '#a8103c')], 7.6)
icon_line(axa, 'adx', 504, 'black')
xa, ya = axc('adx', 354.5, 504)
axa.text(xa, ya, 'ADX > 20: Use Trend Indicators, ADX < 20: Use', transform=axa.transAxes,
         fontsize=7.4, family=LF, color='#202020', va='center', ha='left', zorder=5,
         clip_on=False)
xa, ya = axc('adx', 354.5, 515.7)
axa.text(xa, ya, 'Momentum Indicators', transform=axa.transAxes, fontsize=7.4, family=LF,
         color='#202020', va='center', ha='left', zorder=5, clip_on=False)
arrows(axa, [71.6], [16.8], ['gu'])

# ---------------------------------------------------------------- Slow STO
axs = panel('sto')
axs.set_ylim(-12.9, 114.8)
axs.set_yticks([80, 50, 20])
axs.axhline(80, color='#808080', lw=0.9, zorder=1)
axs.axhline(20, color='#808080', lw=0.9, zorder=1)
axs.axhline(50, color='#808080', lw=0.8, ls=(0, (6, 2, 1, 2)), zorder=1)
axs.plot(x, sto14, color='#a87a72', lw=1.1, zorder=2)
axs.plot(x, sto39, color='black', lw=1.5, zorder=3)
seg_text(axs, 'sto', 31, 570.2, [('Slow STO %K(39) %D(1) 95.67,', 'black'),
                                 (' 95.67', '#ff0000')], 7.6)
seg_text(axs, 'sto', 31, 580.6, [('Slow STO %K(14) %D(1) 86.89,', 'black'),
                                 (' 86.89', '#ff0000')], 6.5)
icon_line(axs, 'sto', 570.2, 'black')
icon_line(axs, 'sto', 580.6, 'black')
arrows(axs, [30.6], [22.9], ['gu'])

# ---------------------------------------------------------------- ROC
axr = panel('roc')
axr.set_ylim(-16.6, 8.9)
axr.set_yticks([5, 0, -5, -10, -15])
axr.axhline(0, color='#808080', lw=0.8, ls=(0, (6, 2, 1, 2)), zorder=1)
axr.plot(x, roc125, color='black', lw=1.5, zorder=3)
seg_text(axr, 'roc', 31, 635.7, [('ROC(125) 5.99%', 'black')], 7.6)
icon_line(axr, 'roc', 635.7, 'black')
for txt, col, ypx in [('BEAR MARKET < 0', '#ff1010', 636.5), ('(Short at 0)', '#ff1010', 649),
                      ('BULL MARKET > 0', '#0a6e16', 666.7), ('(Long at 0)', '#0a6e16', 680)]:
    xa, ya = axc('roc', 468, ypx)
    axr.text(xa, ya, txt, transform=axr.transAxes, color=col, fontsize=8.0, family=NARROW,
             ha='left', va='center', zorder=5)

# ---------------------------------------------------------------- SPX:RUT
axq = panel('ratio')
axq.set_ylim(1.7429, 1.8826)
axq.set_yticks([1.875, 1.850, 1.825, 1.800, 1.775, 1.750])
axq.set_yticklabels(['1.875', '1.850', '1.825', '1.800', '1.775', '1.750'])
axq.plot(x, spx_rut_ema, color='#1414a0', lw=1.0, zorder=2)
axq.plot(x, spx_rut, color='black', lw=1.5, zorder=3)
seg_text(axq, 'ratio', 31, 713.3, [(r'\$SPX:\$RUT 1.851', 'black')], 7.6)
seg_text(axq, 'ratio', 31, 724.3, [('EMA(20) 1.839', '#1414a0')], 6.6)
icon_line(axq, 'ratio', 713.3, 'black')
icon_line(axq, 'ratio', 724.3, '#1414a0')
arrows(axq, [93.9], [1.803], ['ku'])
date_labels(axq, 2.4)

# right-align the value labels of each panel, as the reference does
fig.canvas.draw()
rend = fig.canvas.get_renderer()
for ax in [axm, axv, axd, axa, axs, axr, axq]:
    labs = [lb for lb in ax.get_yticklabels() if lb.get_text()]
    wmax = max(lb.get_window_extent(rend).width for lb in labs)
    for lb in labs:
        lb.set_horizontalalignment('right')
    ax.tick_params(axis='y', pad=1.5 + wmax * 72 / 100)

# ---------------------------------------------------------------- green vertical marker
bx = axm.transData.transform((trading_days.get_loc(pd.Timestamp(breakout_day)), 2500))[0]
fig.add_artist(Line2D([bx / W, bx / W], [1 - 29 / H, 1 - 784 / H], transform=fig.transFigure,
                      color='#008000', lw=1.8, dashes=(2.0, 1.4), zorder=20))

# ---------------------------------------------------------------- header
fig.text(15 / W, 1 - 8.5 / H, r'\$SPX', fontsize=10.2, fontweight='bold', family=LF, va='center')
fig.text(53 / W, 1 - 8.5 / H, 'S&P 500 Large Cap Index', fontsize=7.6, family=LF, va='center')
fig.text(182 / W, 1 - 9 / H, 'INDX', fontsize=6.4, family=LF, va='center')
fig.text(R / W, 1 - 9 / H, '\u00a9StockCharts.com', fontsize=7.6, family=LF, color='#555555',
         ha='right', va='center')
hdr = [('23-Apr-2019', 15, 'normal'), ('Open', 85, 'bold'), ('2909.99', 115, 'normal'),
       ('High', 162, 'bold'), ('2936.31', 188, 'normal'), ('Low', 233, 'bold'),
       ('2908.53', 257, 'normal'), ('Close', 306, 'bold'), ('2933.68', 341, 'normal'),
       ('Volume', 386, 'bold'), ('2.1B', 431, 'normal'), ('Chg', 460, 'bold'),
       ('+25.71 (+0.88%)', 485, 'normal')]
for txt, xpx, fw in hdr:
    fig.text(xpx / W, 1 - 22.5 / H, txt, fontsize=7.6, fontweight=fw, family=LF, va='center')
fig.text(566 / W, 1 - 22.5 / H, '\u25b2', fontsize=5.5, color='#2a9a2a', family=LF,
         va='center')

fig.savefig('out.png', dpi=100, facecolor='white')
